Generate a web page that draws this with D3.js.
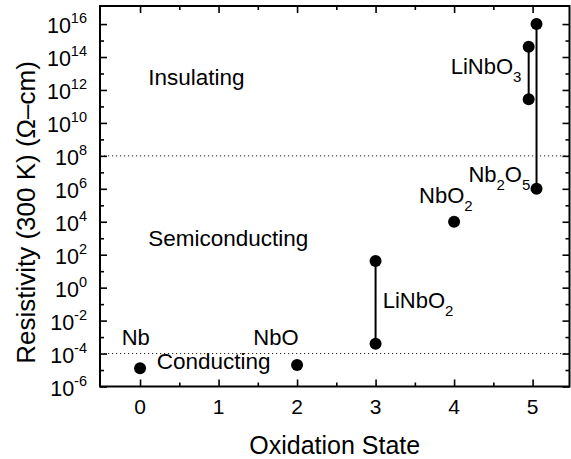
<!DOCTYPE html>
<html>
<head>
<meta charset="utf-8">
<script src="https://cdn.jsdelivr.net/npm/d3@7"></script>
<style>
  html, body { margin: 0; padding: 0; background: #fff; }
  svg { display: block; font-family: "Liberation Sans", Arial, Helvetica, sans-serif; }
</style>
</head>
<body>
<svg id="chart" width="571" height="459"></svg>
<script>
// Room-temperature resistivity of niobium and its oxides vs. Nb oxidation state
const compounds     = ["Nb", "NbO", "LiNbO2", "NbO2", "LiNbO3", "Nb2O5"];
const oxidationPlot = [0, 2, 3, 4, 4.95, 5.05];          // LiNbO3 / Nb2O5 nudged apart at +5
const rhoLow        = [1.3e-5, 2e-5, 4e-4, 1e4, 2.7e11, 1e6];
const rhoHigh       = [1.3e-5, 2e-5, 42, 1e4, 4.2e14, 1e16];

// Axis ticks
const xTickValues   = [0, 1, 2, 3, 4, 5];
const xMinorValues  = [0.5, 1.5, 2.5, 3.5, 4.5];
const yMajorExp     = [-6, -4, -2, 0, 2, 4, 6, 8, 10, 12, 14, 16];
const yMinorExp     = [-5, -3, -1, 1, 3, 5, 7, 9, 11, 13, 15];

// Regime boundaries (dotted lines)
const boundaries    = [1e8, 1e-4];

// Regime names, anchored in data space (left, baseline)
const regimeNames   = ["Insulating", "Semiconducting", "Conducting"];
const regimeX       = [0.105, 0.105, 0.213];
const regimeY       = [2e12, 3.5e2, 1.15e-5];

// Compound labels: base text, subscript parts, anchor (left, baseline)
const labelParts = [
  [["Nb", null]],
  [["NbO", null]],
  [["LiNbO", null], ["2", "sub"]],
  [["NbO", null], ["2", "sub"]],
  [["LiNbO", null], ["3", "sub"]],
  [["Nb", null], ["2", "sub"], ["O", null], ["5", "sub"]]
];
const labelX = [-0.233, 1.443, 3.091, 3.554, 3.957, 4.182];
const labelY = [3.3e-4, 3.3e-4, 5.6e-2, 1.32e5, 9.3e12, 2.7e6];

const svg = d3.select("#chart");
const margin = { left: 100, right: 1.5, top: 6, bottom: 72.5 };
const W = 571, H = 459;

const x = d3.scaleLinear().domain([-0.51, 5.47]).range([margin.left, W - margin.right]);
const y = d3.scaleLog().domain([1e-6, 1.25e17]).range([H - margin.bottom, margin.top]);

const x0 = x.range()[0], x1 = x.range()[1];
const y0 = y.range()[0], y1 = y.range()[1];

// Dotted boundary lines
svg.append("g").selectAll("line").data(boundaries).join("line")
  .attr("x1", x0).attr("x2", x1)
  .attr("y1", d => y(d)).attr("y2", d => y(d))
  .attr("stroke", "#222").attr("stroke-width", 1)
  .attr("stroke-dasharray", "1.2,2.8");

// Axes with inward ticks
function styleAxis(g) {
  g.select(".domain").remove();
  g.selectAll(".tick line").attr("stroke", "#000").attr("stroke-width", 1.6);
}
const yMaj = yMajorExp.map(e => Math.pow(10, e));
const yMin = yMinorExp.map(e => Math.pow(10, e));

svg.append("g").attr("transform", `translate(${x0},0)`)
  .call(d3.axisLeft(y).tickValues(yMaj).tickSize(-7).tickFormat("")).call(styleAxis);
svg.append("g").attr("transform", `translate(${x0},0)`)
  .call(d3.axisLeft(y).tickValues(yMin).tickSize(-4).tickFormat("")).call(styleAxis);
svg.append("g").attr("transform", `translate(${x1},0)`)
  .call(d3.axisRight(y).tickValues(yMaj).tickSize(-7).tickFormat("")).call(styleAxis);
svg.append("g").attr("transform", `translate(${x1},0)`)
  .call(d3.axisRight(y).tickValues(yMin).tickSize(-4).tickFormat("")).call(styleAxis);

svg.append("g").attr("transform", `translate(0,${y0})`)
  .call(d3.axisBottom(x).tickValues(xTickValues).tickSize(-7).tickFormat("")).call(styleAxis);
svg.append("g").attr("transform", `translate(0,${y0})`)
  .call(d3.axisBottom(x).tickValues(xMinorValues).tickSize(-4).tickFormat("")).call(styleAxis);
svg.append("g").attr("transform", `translate(0,${y1})`)
  .call(d3.axisTop(x).tickValues(xTickValues).tickSize(-7).tickFormat("")).call(styleAxis);
svg.append("g").attr("transform", `translate(0,${y1})`)
  .call(d3.axisTop(x).tickValues(xMinorValues).tickSize(-4).tickFormat("")).call(styleAxis);

// Frame
svg.append("rect")
  .attr("x", x0).attr("y", y1).attr("width", x1 - x0).attr("height", y0 - y1)
  .attr("fill", "none").attr("stroke", "#000").attr("stroke-width", 2);

// X tick labels
svg.append("g").selectAll("text").data(xTickValues).join("text")
  .attr("x", d => x(d)).attr("y", y0 + 27)
  .attr("text-anchor", "middle").attr("font-size", 21).attr("fill", "#000")
  .text(d => d);

// Y tick labels 10^n
const yl = svg.append("g").selectAll("text").data(yMajorExp).join("text")
  .attr("x", x0 - 13).attr("y", d => y(Math.pow(10, d)) + 9)
  .attr("text-anchor", "end").attr("font-size", 21.5).attr("fill", "#000");
yl.append("tspan").text("10");
yl.append("tspan").attr("font-size", 14.5).attr("dy", -10).text(d => d < 0 ? "-" + (-d) : d);

// Axis titles
svg.append("text")
  .attr("x", (x0 + x1) / 2).attr("y", 454)
  .attr("text-anchor", "middle").attr("font-size", 25).attr("fill", "#000")
  .text("Oxidation State");
svg.append("text")
  .attr("transform", "translate(35,212.5) rotate(-90)")
  .attr("text-anchor", "middle").attr("font-size", 26).attr("fill", "#000")
  .text("Resistivity (300 K) (\u03A9\u2013cm)");

// Range bars and data points
const idx = d3.range(compounds.length);
svg.append("g").selectAll("line").data(idx.filter(i => rhoLow[i] !== rhoHigh[i])).join("line")
  .attr("x1", i => x(oxidationPlot[i])).attr("x2", i => x(oxidationPlot[i]))
  .attr("y1", i => y(rhoLow[i])).attr("y2", i => y(rhoHigh[i]))
  .attr("stroke", "#000").attr("stroke-width", 2);

const pts = [];
idx.forEach(i => {
  pts.push([oxidationPlot[i], rhoLow[i]]);
  if (rhoHigh[i] !== rhoLow[i]) pts.push([oxidationPlot[i], rhoHigh[i]]);
});
svg.append("g").selectAll("circle").data(pts).join("circle")
  .attr("cx", d => x(d[0])).attr("cy", d => y(d[1])).attr("r", 6)
  .attr("fill", "#000");

// Regime names
svg.append("g").selectAll("text").data(regimeNames).join("text")
  .attr("x", (d, i) => x(regimeX[i])).attr("y", (d, i) => y(regimeY[i]))
  .attr("font-size", 22.5).attr("fill", "#000")
  .text(d => d);

// Compound labels with subscripts
const lab = svg.append("g").selectAll("text").data(idx).join("text")
  .attr("x", i => x(labelX[i])).attr("y", i => y(labelY[i]))
  .attr("font-size", 22).attr("fill", "#000");
lab.each(function (i) {
  const t = d3.select(this);
  let shifted = 0;
  labelParts[i].forEach(([s, kind]) => {
    const want = kind === "sub" ? 8 : 0;
    const ts = t.append("tspan").attr("dy", want - shifted).text(s);
    if (kind === "sub") ts.attr("font-size", 15);
    shifted = want;
  });
});
</script>
</body>
</html>
